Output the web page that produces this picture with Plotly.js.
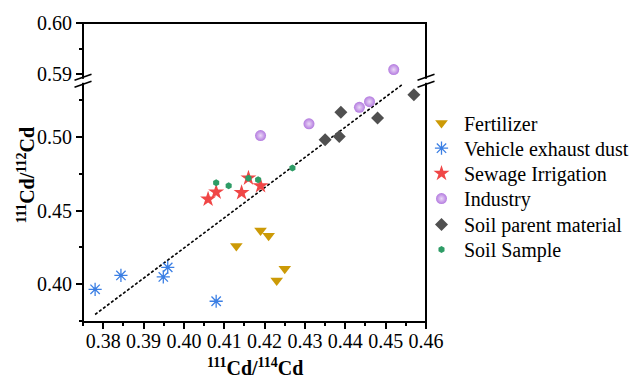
<!DOCTYPE html>
<html>
<head>
<meta charset="utf-8">
<script src="https://cdn.plot.ly/plotly-3.0.1.min.js"></script>
<style>html,body{margin:0;padding:0;background:#fff;}#chart{width:635px;height:378px;}</style>
</head>
<body>
<div id="chart"></div>
<script>
// ----- data -----
const seriesNames = ["Fertilizer", "Vehicle exhaust dust", "Sewage Irrigation", "Industry", "Soil parent material", "Soil Sample"];

const fertX = [0.413, 0.419, 0.421, 0.423, 0.425];
const fertY = [0.426, 0.4365, 0.433, 0.4025, 0.4105];

const vehX = [0.378, 0.3844, 0.3949, 0.396, 0.408];
const vehY = [0.3966, 0.406, 0.405, 0.4115, 0.3885];

const sewX = [0.406, 0.408, 0.4143, 0.416, 0.419];
const sewY = [0.4578, 0.4626, 0.4622, 0.4721, 0.4669];

const indX = [0.419, 0.431, 0.4435, 0.446];
const indY = [0.501, 0.509, 0.5202, 0.524];
const indUpperX = [0.452];
const indUpperY = [0.5909];

const soilPX = [0.4389, 0.435, 0.4385, 0.448, 0.457];
const soilPY = [0.5168, 0.4981, 0.5003, 0.513, 0.5288];

const sampX = [0.408, 0.4111, 0.416, 0.4184, 0.4269];
const sampY = [0.469, 0.4669, 0.472, 0.471, 0.4789];

const fitX = [0.378, 0.454];
const fitY = [0.3795, 0.5354];

const xTickVals = [0.38, 0.39, 0.40, 0.41, 0.42, 0.43, 0.44, 0.45, 0.46];

// ----- styling -----
const FONT = "Liberation Serif, 'Times New Roman', serif";
const colors = ["#CC9A06", "#3B7FE4", "#F04646", "#B37ADF", "#505050", "#2E9C66"];

const traces = [
  {x: fitX, y: fitY, mode: "lines", line: {color: "#000", width: 1.6, dash: "3px,2px"}, showlegend: false, hoverinfo: "skip"},
  {name: seriesNames[0], x: fertX, y: fertY, mode: "markers", legend: "legend",
   marker: {symbol: "triangle-down", size: 11, color: colors[0]}},
  {name: seriesNames[1], x: vehX, y: vehY, mode: "markers", legend: "legend2", legendgroup: "veh",
   marker: {symbol: "asterisk-open", size: 11, color: colors[1], line: {color: colors[1], width: 1.3}}},
  {name: seriesNames[1], x: vehX, y: vehY, mode: "markers", legendgroup: "veh", showlegend: false,
   marker: {symbol: "circle", size: 3.5, color: colors[1], line: {width: 0}}},
  {name: seriesNames[2], x: sewX, y: sewY, mode: "markers", legend: "legend3",
   marker: {symbol: "star", size: 12, color: colors[2], line: {width: 0}}},
  {name: seriesNames[3], x: indX, y: indY, mode: "markers", legend: "legend4", legendgroup: "ind",
   marker: {symbol: "circle", size: 11, color: colors[3], line: {width: 0}, gradient: {type: "radial", color: "#EBD9F7"}}},
  {name: seriesNames[3], x: indUpperX, y: indUpperY, yaxis: "y2", mode: "markers", legendgroup: "ind", showlegend: false,
   marker: {symbol: "circle", size: 11, color: colors[3], line: {width: 0}, gradient: {type: "radial", color: "#EBD9F7"}}},
  {name: seriesNames[4], x: soilPX, y: soilPY, mode: "markers", legend: "legend5",
   marker: {symbol: "diamond", size: 10, color: colors[4], line: {width: 0}}},
  {name: seriesNames[5], x: sampX, y: sampY, mode: "markers", legend: "legend6",
   marker: {symbol: "hexagon", size: 7, color: colors[5], line: {width: 0}}}
];

// pixel helpers for paper coords (plot area: left 83, width 343, bottom 321.7, height 299)
const PL = 83, PW = 343, PB = 321.7, PH = 299;
const px = v => (v - PL) / PW;
const py = v => (PB - v) / PH;
const SPLIT = py(80.5);

function legendAt(rowY) {
  return {x: px(419), xanchor: "left", y: py(rowY), yanchor: "middle",
          bgcolor: "rgba(0,0,0,0)", borderwidth: 0, itemwidth: 35,
          font: {family: FONT, size: 20, color: "#000"}, itemclick: false};
}
const legendRows = [122.7, 147.9, 173.1, 198.3, 224.1, 249.2];

const tickCommon = {
  showgrid: false, zeroline: false, showline: false,
  ticks: "outside", ticklen: 6, tickwidth: 2, tickcolor: "#000",
  tickfont: {family: FONT, size: 20, color: "#000"},
  tickformat: ".2f"
};

const breakShapes = [];
function addBreak(cx) {
  // white gap in the frame
  breakShapes.push({type: "rect", xref: "paper", yref: "paper",
    x0: px(cx - 3), x1: px(cx + 3), y0: py(82.5), y1: py(78.5),
    fillcolor: "#fff", line: {width: 0}, layer: "above"});
  [77, 84].forEach(yc => {
    breakShapes.push({type: "line", xref: "paper", yref: "paper",
      x0: px(cx - 8.5), y0: py(yc + 3), x1: px(cx + 8.5), y1: py(yc - 3),
      line: {color: "#000", width: 1.6}, layer: "above"});
  });
}

const layout = {
  width: 635, height: 378,
  margin: {l: PL, r: 635 - PL - PW, t: 23, b: 378 - 23 - PH, autoexpand: false},
  paper_bgcolor: "#fff", plot_bgcolor: "#fff",
  font: {family: FONT, size: 20, color: "#000"},
  xaxis: Object.assign({}, tickCommon, {
    range: [0.375, 0.46], tickvals: xTickVals, anchor: "y", ticklabelstandoff: -5,
    minor: {dtick: 0.005, tick0: 0.375, ticks: "outside", ticklen: 3, tickwidth: 2, tickcolor: "#000"}
  }),
  yaxis: Object.assign({}, tickCommon, {
    domain: [0, SPLIT], range: [0.3744, 0.5382], dtick: 0.05, tick0: 0,
    minor: {dtick: 0.025, tick0: 0, ticks: "outside", ticklen: 3, tickwidth: 2, tickcolor: "#000"}
  }),
  yaxis2: Object.assign({}, tickCommon, {
    domain: [SPLIT, 1], range: [0.5887, 0.60005], dtick: 0.01, tick0: 0, anchor: "x",
    minor: {dtick: 0.005, tick0: 0, ticks: "outside", ticklen: 3, tickwidth: 2, tickcolor: "#000"}
  }),
  legend: legendAt(legendRows[0]),
  legend2: legendAt(legendRows[1]),
  legend3: legendAt(legendRows[2]),
  legend4: legendAt(legendRows[3]),
  legend5: legendAt(legendRows[4]),
  legend6: legendAt(legendRows[5]),
  shapes: [
    {type: "rect", xref: "paper", yref: "paper", x0: 0, x1: 1, y0: 0, y1: 1,
     line: {color: "#000", width: 2}, fillcolor: "rgba(0,0,0,0)", layer: "above"}
  ],
  annotations: [
    {text: "<b><sup>111</sup>Cd/<sup>114</sup>Cd</b>", xref: "paper", yref: "paper",
     x: 0.5, y: py(367), xanchor: "center", yanchor: "middle", showarrow: false,
     font: {family: FONT, size: 20, color: "#000"}},
    {text: "<b><sup>111</sup>Cd/<sup>112</sup>Cd</b>", xref: "paper", yref: "paper",
     x: px(26), y: py(175), xanchor: "center", yanchor: "middle", showarrow: false, textangle: -90,
     font: {family: FONT, size: 20, color: "#000"}}
  ]
};
addBreak(83);
addBreak(426);
layout.shapes = layout.shapes.concat(breakShapes);

Plotly.newPlot("chart", traces, layout, {displayModeBar: false, staticPlot: true});
</script>
</body>
</html>
